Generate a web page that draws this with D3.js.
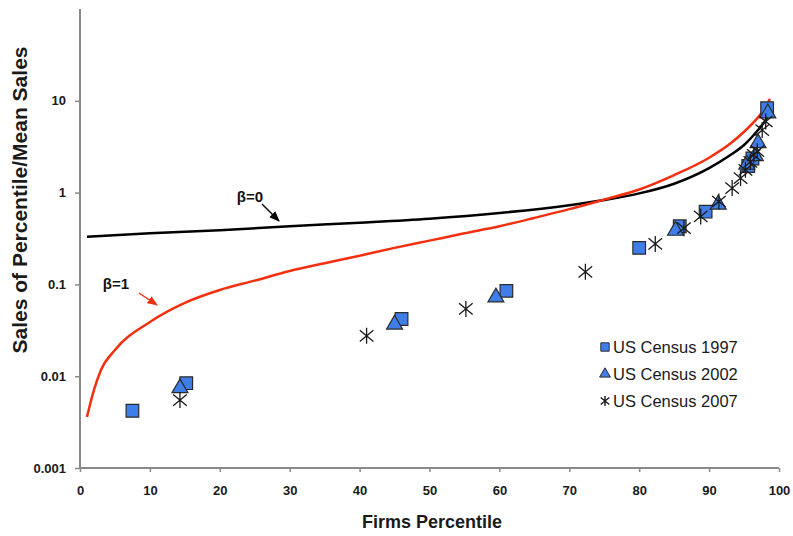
<!DOCTYPE html>
<html><head><meta charset="utf-8">
<script src="https://cdn.jsdelivr.net/npm/d3@7"></script>
<style>
body{margin:0;background:#fff;}
svg{display:block;font-family:"Liberation Sans",Arial,sans-serif;}
</style></head>
<body><svg id="chart" width="793" height="536"></svg>
<script>
// ---- data ----
const beta0Pct = [1, 10, 20, 30, 40, 50, 60, 70, 75, 80, 85, 90, 93, 95, 97, 98, 98.7];
const beta0Val = [0.33, 0.36, 0.39, 0.43, 0.47, 0.52, 0.60, 0.73, 0.83, 0.98, 1.25, 1.85, 2.55, 3.3, 4.8, 6.0, 7.5];
const beta1Pct = [1, 2, 3, 5, 10, 15, 20, 25, 30, 35, 40, 45, 50, 55, 60, 65, 70, 75, 80, 85, 90, 93, 95, 97, 98, 98.7];
const beta1Val = [0.0036, 0.0071, 0.0117, 0.0193, 0.039, 0.063, 0.087, 0.11, 0.14, 0.17, 0.205, 0.25, 0.30, 0.36, 0.43, 0.53, 0.66, 0.84, 1.08, 1.55, 2.4, 3.4, 4.6, 6.6, 8.3, 10.5];
const census1997Pct = [7.5, 15.2, 46, 61, 80, 85.8, 89.5, 95.6, 96.2, 98.3];
const census1997Val = [0.0042, 0.0084, 0.042, 0.085, 0.25, 0.43, 0.62, 1.95, 2.35, 8.3];
const census2002Pct = [14.3, 45, 59.5, 85.2, 91.3, 95.4, 96.6, 97.0, 98.4];
const census2002Val = [0.0077, 0.038, 0.075, 0.40, 0.77, 2.1, 2.6, 3.6, 7.6];
const census2007Pct = [14.3, 41, 55.2, 72.3, 82.3, 86.4, 88.8, 91.4, 93.3, 94.5, 95.2, 95.9, 96.4, 96.9, 97.6, 98.1];
const census2007Val = [0.0055, 0.0275, 0.054, 0.137, 0.276, 0.41, 0.55, 0.80, 1.12, 1.44, 1.77, 2.16, 2.58, 2.83, 4.8, 5.95];
const xTicks = [0, 10, 20, 30, 40, 50, 60, 70, 80, 90, 100];
const yTicks = [0.001, 0.01, 0.1, 1, 10];
const yTickLabels = ["0.001", "0.01", "0.1", "1", "10"];
const legendLabels = ["US Census 1997", "US Census 2002", "US Census 2007"];

// ---- chart ----
const svg = d3.select("#chart");
const x = d3.scaleLinear().domain([0, 100]).range([80, 779]);
const y = d3.scaleLog().domain([0.001, 100]).range([468, 9]);
const axisColor = "#8a8a8a";
const blue = "#3f7ee8";
const markStroke = "#2b2b2b";

// axes
const gx = svg.append("g").attr("transform", "translate(0,468)")
  .call(d3.axisBottom(x).tickValues(xTicks).tickSize(4).tickPadding(14).tickFormat(d3.format("d")));
const gy = svg.append("g").attr("transform", "translate(80,0)")
  .call(d3.axisLeft(y).tickValues(yTicks).tickSize(5).tickPadding(9).tickFormat((d, i) => yTickLabels[i]));
[gx, gy].forEach(g => {
  g.select(".domain").attr("stroke", axisColor).attr("stroke-width", 2);
  g.selectAll(".tick line").attr("stroke", axisColor).attr("stroke-width", 1.5);
  g.selectAll(".tick text").attr("fill", "#1a1a1a").attr("font-size", 13).attr("font-weight", "bold")
    .attr("font-family", "'Liberation Sans', Arial, sans-serif");
});
gx.select(".domain").attr("d", "M80,0H779");
gy.select(".domain").attr("d", "M0,9V468");

// axis titles
svg.append("text").attr("x", 432).attr("y", 528).attr("text-anchor", "middle")
  .attr("font-size", 18).attr("font-weight", "bold").attr("fill", "#1a1a1a").text("Firms Percentile");
svg.append("text").attr("transform", "translate(27,200) rotate(-90)").attr("text-anchor", "middle")
  .attr("font-size", 21).attr("font-weight", "bold").attr("fill", "#1a1a1a").text("Sales of Percentile/Mean Sales");

// curves
const line = d3.line().x(d => x(d[0])).y(d => y(d[1])).curve(d3.curveMonotoneX);
svg.append("path").datum(beta0Pct.map((p, i) => [p, beta0Val[i]]))
  .attr("d", line).attr("fill", "none").attr("stroke", "#000").attr("stroke-width", 2.5);
svg.append("path").datum(beta1Pct.map((p, i) => [p, beta1Val[i]]))
  .attr("d", line).attr("fill", "none").attr("stroke", "#f2300f").attr("stroke-width", 2.5);

// markers
const sq = d3.symbol().type(d3.symbolSquare).size(160)();
const tri = d3.symbol().type(d3.symbolTriangle).size(110)();
function star(s) {
  const r = s / 2, dx = r * 0.85, dy = r * 0.7;
  return `M0,${-r}V${r}M${-dx},${-dy}L${dx},${dy}M${-dx},${dy}L${dx},${-dy}`;
}
svg.append("g").selectAll("path").data(census1997Pct.map((p, i) => [p, census1997Val[i]])).join("path")
  .attr("transform", d => `translate(${x(d[0])},${y(d[1])})`).attr("d", sq)
  .attr("fill", blue).attr("stroke", markStroke).attr("stroke-width", 1.2);
svg.append("g").selectAll("path").data(census2002Pct.map((p, i) => [p, census2002Val[i]])).join("path")
  .attr("transform", d => `translate(${x(d[0])},${y(d[1]) + 1.5})`).attr("d", tri)
  .attr("fill", blue).attr("stroke", markStroke).attr("stroke-width", 1.2);
svg.append("g").selectAll("path").data(census2007Pct.map((p, i) => [p, census2007Val[i]])).join("path")
  .attr("transform", d => `translate(${x(d[0])},${y(d[1])})`).attr("d", star(16))
  .attr("fill", "none").attr("stroke", "#1a1a1a").attr("stroke-width", 1.3);

// annotations
const defs = svg.append("defs");
[["ahBlack", "#000"], ["ahRed", "#f2300f"]].forEach(([id, c]) => {
  defs.append("marker").attr("id", id).attr("viewBox", "0 0 10 10").attr("refX", 9).attr("refY", 5)
    .attr("markerWidth", 7).attr("markerHeight", 7).attr("orient", "auto")
    .append("path").attr("d", "M0,1L10,5L0,9Z").attr("fill", c);
});
svg.append("text").attr("x", 250).attr("y", 202).attr("text-anchor", "middle")
  .attr("font-size", 15).attr("font-weight", "bold").attr("fill", "#111").text("β=0");
svg.append("line").attr("x1", 262).attr("y1", 204).attr("x2", 279).attr("y2", 221)
  .attr("stroke", "#000").attr("stroke-width", 1.5).attr("marker-end", "url(#ahBlack)");
svg.append("text").attr("x", 116).attr("y", 289).attr("text-anchor", "middle")
  .attr("font-size", 15).attr("font-weight", "bold").attr("fill", "#111").text("β=1");
svg.append("line").attr("x1", 139).attr("y1", 293).attr("x2", 157).attr("y2", 305)
  .attr("stroke", "#f2300f").attr("stroke-width", 1.5).attr("marker-end", "url(#ahRed)");

// legend
const leg = svg.append("g");
legendLabels.forEach((lab, i) => {
  const cy = 347 + i * 27;
  const sym = i === 0 ? d3.symbol().type(d3.symbolSquare).size(70)()
            : i === 1 ? d3.symbol().type(d3.symbolTriangle).size(50)() : star(10);
  leg.append("path").attr("transform", `translate(605,${cy})`).attr("d", sym)
    .attr("fill", i === 2 ? "none" : blue).attr("stroke", i === 2 ? "#1a1a1a" : markStroke)
    .attr("stroke-width", i === 2 ? 1.4 : 1);
  leg.append("text").attr("x", 613).attr("y", cy + 6).attr("font-size", 16.5).attr("fill", "#1a1a1a").text(lab);
});
</script></body></html>
